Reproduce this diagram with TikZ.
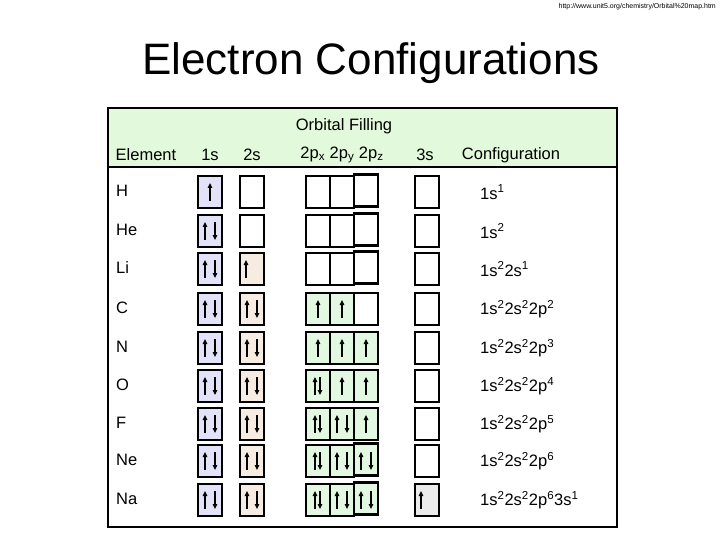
\documentclass[tikz,border=0pt]{standalone}
\usepackage{fontspec}
\setmainfont{Liberation Sans}
\usetikzlibrary{arrows.meta}
\definecolor{hdr}{HTML}{E3F9DC}
\definecolor{cA}{HTML}{E2E2F8}
\definecolor{cB}{HTML}{F7ECE1}
\definecolor{cP}{HTML}{E2F8E0}
\definecolor{cS}{HTML}{EBEBEB}
\tikzset{obox/.style={draw=black,line width=2.4pt},
 arr/.style={line width=1.4pt,-{Triangle[length=5pt,width=4.5pt]}},
 lbl/.style={font=\fontsize{16.5}{19}\selectfont,inner sep=0pt}}
\newcommand\orb[5]{% x y state colour shift
 \ifnum#3>0 \def\fc{#4}\else\def\fc{white}\fi
 \draw[obox,fill=\fc] (#1-12,#2-16+#5) rectangle (#1+12,#2+16+#5);
 \ifnum#3=1 \draw[arr] (#1,#2+9) -- (#1,#2-9);\fi
 \ifnum#3=3 \draw[arr] (#1-6,#2+9) -- (#1-6,#2-9);\fi
 \ifnum#3=2 \draw[arr] (#1-5,#2+9) -- (#1-5,#2-9);\draw[arr] (#1+5,#2-9) -- (#1+5,#2+9);\fi
 \ifnum#3=4 \draw[arr] (#1-3,#2+9) -- (#1-3,#2-9);\draw[arr] (#1+2,#2-9) -- (#1+2,#2+9);\fi}
\begin{document}
\begin{tikzpicture}[x=1pt,y=-1pt]
\useasboundingbox (0,0) rectangle (720,540);
\node[font=\fontsize{7}{8}\selectfont,anchor=north east,inner sep=0pt] (url) at (716,3) {http://www.unit5.org/chemistry/Orbital\%20map.htm};
\node[font=\fontsize{44}{50}\selectfont] (title) at (371,63) {Electron Configurations};
\fill[hdr] (108,108) rectangle (617,167);
\draw[line width=2.5pt] (108,167) -- (617,167);
\draw[line width=2.5pt] (108,108) rectangle (617,527);
\node[lbl] (of) at (344,126) {Orbital Filling};
\node[lbl] (h1) at (146,155) {Element};
\node[lbl] (h2) at (210,155) {1s};
\node[lbl] (h3) at (252,155) {2s};
\node[lbl] (h4) at (342,155) {2p$_\mathrm{x}$ 2p$_\mathrm{y}$ 2p$_\mathrm{z}$};
\node[lbl] (h5) at (425,155) {3s};
\node[lbl] (h6) at (511,155) {Configuration};
\foreach \y/\el/\a/\b/\p/\q/\r/\s/\off/\cfg in {
 192/H/1/0/0/0/0/0/-1.5/{1s\textsuperscript{1}},
 231/He/2/0/0/0/0/0/-1.5/{1s\textsuperscript{2}},
 269/Li/2/3/0/0/0/0/-1.5/{1s\textsuperscript{2}2s\textsuperscript{1}},
 309/C/2/2/1/1/0/0/0/{1s\textsuperscript{2}2s\textsuperscript{2}2p\textsuperscript{2}},
 348/N/2/2/1/1/1/0/0/{1s\textsuperscript{2}2s\textsuperscript{2}2p\textsuperscript{3}},
 386/O/2/2/4/1/1/0/0/{1s\textsuperscript{2}2s\textsuperscript{2}2p\textsuperscript{4}},
 424/F/2/2/4/2/1/0/0/{1s\textsuperscript{2}2s\textsuperscript{2}2p\textsuperscript{5}},
 461/Ne/2/2/4/2/2/0/-1.5/{1s\textsuperscript{2}2s\textsuperscript{2}2p\textsuperscript{6}},
 500/Na/2/2/4/2/2/3/-1.5/{1s\textsuperscript{2}2s\textsuperscript{2}2p\textsuperscript{6}3s\textsuperscript{1}}}{
 \node[lbl,anchor=west] (e\el) at (116,\y-1) {\el};
 \orb{210}{\y}{\a}{cA}{0}
 \orb{252}{\y}{\b}{cB}{0}
 \orb{318}{\y}{\p}{cP}{0}
 \orb{342}{\y}{\q}{cP}{0}
 \orb{366}{\y}{\r}{cP}{\off}
 \orb{427}{\y}{\s}{cS}{0}
 \node[lbl,anchor=west] (c\el) at (480,\y) {\cfg};
}
\end{tikzpicture}
\end{document}
